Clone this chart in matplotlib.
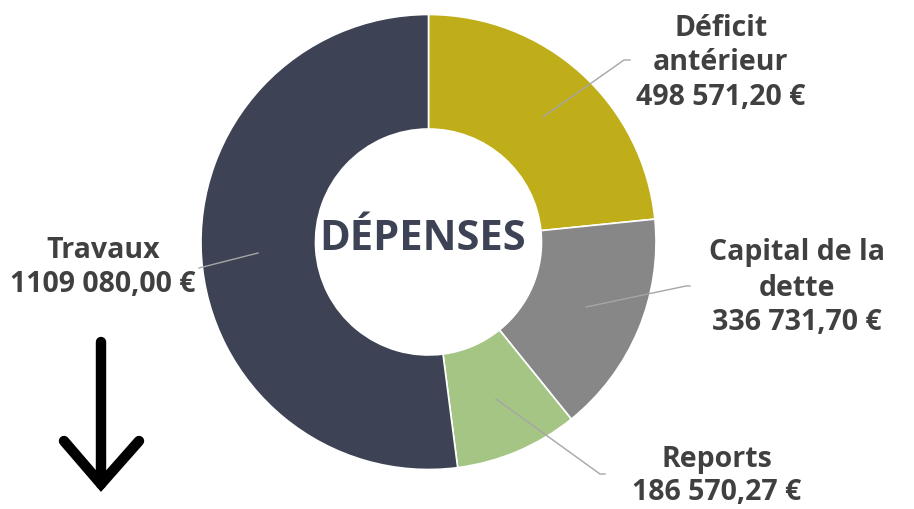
import matplotlib.pyplot as plt

# Dépenses d'investissement (en euros)
categories = ["Déficit\nantérieur", "Capital de la\ndette", "Reports", "Travaux"]
montants = [498571.20, 336731.70, 186570.27, 1109080.00]
couleurs = ["#BFAE1A", "#878787", "#A5C585", "#3D4254"]
etiquettes = ["498 571,20 €", "336 731,70 €", "186 570,27 €", "1109 080,00 €"]

W, H = 914, 509

def py(y):
    # coordonnées pixel (y vers le bas) -> coordonnées de l'axe
    return H - y

fig = plt.figure(figsize=(W / 100, H / 100), dpi=100)
ax = fig.add_axes([0, 0, 1, 1])

centre = (428.5, py(242))
rayon = 227.5
ax.pie(montants, colors=couleurs, startangle=90, counterclock=False,
       center=centre, radius=rayon, frame=True,
       wedgeprops=dict(width=rayon - 113, edgecolor="white", linewidth=1.2))
ax.set_xlim(0, W)
ax.set_ylim(0, H)
ax.set_aspect("equal")
ax.axis("off")

ax.text(centre[0] - 6, py(239), "DÉPENSES", ha="center", va="center",
        fontsize=30, fontweight="bold", color="#3D4255", family="Open Sans")

# position des étiquettes (x, y des lignes) et lignes de rappel
pos_etiq = [(721, [28, 62, 97]), (797, [252, 288, 322]), (717, [460, 493]), (103, [250, 284])]
rappels = [
    [(543, 117), (624, 60), (630, 60)],
    [(586, 307), (686, 286), (690, 286)],
    [(496, 399), (600, 474), (605, 474)],
    [(258, 253), (199, 268)],
]

for cat, val, (x, ys), pts in zip(categories, etiquettes, pos_etiq, rappels):
    lignes = cat.split("\n") + [val]
    for txt, y in zip(lignes, ys):
        ax.text(x, py(y), txt, ha="center", va="center", fontsize=20.5,
                fontweight="bold", color="#404040", family="Open Sans")
    ax.plot([p[0] for p in pts], [py(p[1]) for p in pts], color="#A6A6A6", lw=1)

# flèche vers le bas
ax.plot([101, 101], [py(342), py(484)], color="black", lw=7.5, solid_capstyle="round")
ax.plot([64, 101, 139], [py(441), py(484), py(441)], color="black", lw=7.5,
        solid_capstyle="round", solid_joinstyle="miter")

fig.savefig("out.png", dpi=100)
